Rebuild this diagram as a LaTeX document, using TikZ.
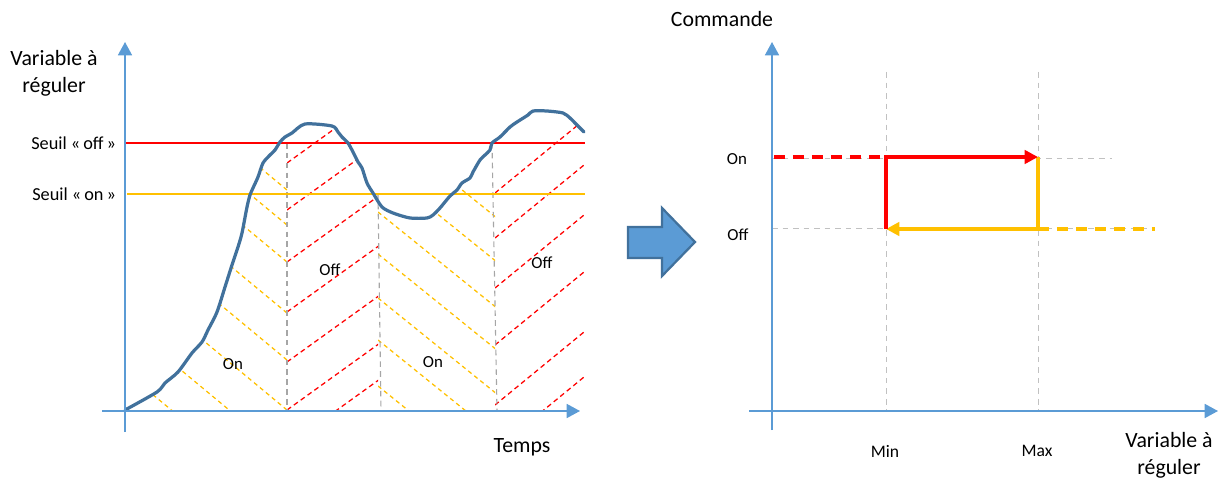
\documentclass[tikz,border=0pt]{standalone}
\usepackage{fontspec}
\setmainfont{Carlito}
\usetikzlibrary{arrows.meta}
\definecolor{axisblue}{HTML}{5B9BD5}
\definecolor{curveblue}{HTML}{41719C}
\definecolor{seuilred}{HTML}{FF0000}
\definecolor{seuilorange}{HTML}{FFC000}
\definecolor{guidegray}{HTML}{A6A6A6}
\def\courbe{plot[smooth, tension=0.45] coordinates {(125,410) (157,392) (165,383) (178,372) (192,353) (202,342) (208,330) (217,312) (225,287) (232,265) (238,247) (242,233) (247,207) (250,195) (253,188) (258,177) (263,163) (270,155) (275,150) (280,142) (285,137) (292,133) (305,124) (332,126) (338,132) (342,137) (348,143) (353,152) (358,162) (362,168) (367,183) (373,193) (382,207) (393,213) (410,218) (427,218) (433,215) (440,208) (450,196) (457,190) (462,183) (470,178) (473,172) (480,160) (485,155) (490,150) (492,143) (500,137) (510,127) (517,122) (528,115) (533,111) (547,111) (563,113) (570,118) (575,123) (584,132)}}
\begin{document}
\begin{tikzpicture}
[x=0.025cm, y=-0.025cm,
axe/.style={draw=axisblue, line width=1.1pt, -{Triangle[length=9.5pt,width=10pt]}},
curve/.style={draw=curveblue, line width=2.3pt, line join=round, line cap=round},
seuiloff/.style={draw=seuilred, line width=0.9pt},
seuilon/.style={draw=seuilorange, line width=0.9pt},
hatchon/.style={draw=seuilorange, line width=0.9pt, dash pattern=on 3pt off 2.5pt},
hatchoff/.style={draw=seuilred, line width=0.9pt, dash pattern=on 3.5pt off 2.5pt},
limit/.style={draw=guidegray, line width=0.8pt, dash pattern=on 4pt off 3pt},
guide/.style={draw=guidegray!70, line width=0.7pt, dash pattern=on 4pt off 3.5pt},
cmdon/.style={draw=seuilred, line width=2.8pt, -{Triangle[length=9.5pt,width=9.5pt]}},
cmdoff/.style={draw=seuilorange, line width=2.8pt, -{Triangle[length=9.5pt,width=9.5pt]}},
redline/.style={draw=seuilred, line width=2.8pt},
orangeline/.style={draw=seuilorange, line width=2.5pt},
reddash/.style={draw=seuilred, line width=2.2pt, dash pattern=on 8pt off 5.5pt},
orangedash/.style={draw=seuilorange, line width=2.2pt, dash pattern=on 8pt off 5.5pt},
bigarrow/.style={draw=curveblue, fill=axisblue, line width=1.6pt, line join=miter},
axislabel/.style={font=\fontsize{15.5}{19}\selectfont, align=center},
seuil/.style={font=\fontsize{13}{15}\selectfont, anchor=east},
etat/.style={font=\fontsize{12}{14}\selectfont},
borne/.style={font=\fontsize{12.5}{14}\selectfont}
]
\useasboundingbox (0,0) rectangle (1230,479);

\begin{scope}
\clip \courbe -- (584,411) -- (125,411) -- cycle;
\begin{scope}
\clip (125,100) rectangle (287,411);
\foreach \y in {190,225,262,313,360,410,458,506}
  \draw[hatchon] (287,\y) -- ++(-200,-166);
\end{scope}
\begin{scope}
\clip (287,100) rectangle (378,411);
\foreach \y in {163,210,262,312,362,410,446}
  \draw[hatchoff] (287,\y) -- ++(100,-72);
\end{scope}
\begin{scope}
\clip (378,100) rectangle (495,411);
\foreach \y in {122,166,212,254,298,340,386}
  \draw[hatchon] (378,\y) -- ++(130,105);
\end{scope}
\begin{scope}
\clip (495,100) rectangle (590,411);
\foreach \y in {193,238,288,345,405,450}
  \draw[hatchoff] (495,\y) -- ++(100,-82);
\end{scope}
\end{scope}

\draw[limit] (287,143) -- (287,411);
\draw[limit] (378,194) -- (381,411);
\draw[limit] (492,143) -- (497,411);
\draw[seuiloff] (125,143) -- (585,143);
\draw[seuilon] (127,194) -- (585,194);
\draw[curve] \courbe;
\draw[axe] (102,411) -- (580,411);
\draw[axe] (125,432) -- (125,42);

\node[axislabel] (yleft) at (54,73) {Variable à\\réguler};
\node[seuil] (soff) at (121,143) {Seuil «\,off\,»};
\node[seuil] (son) at (121,194) {Seuil «\,on\,»};
\node[axislabel] (temps) at (522,447) {Temps};
\node[etat] (on1) at (233,364) {On};
\node[etat] (off1) at (330,270) {Off};
\node[etat] (on2) at (433,362) {On};
\node[etat] (off2) at (542,263) {Off};

\draw[bigarrow] (628,227) -- (662,227) -- (662,208) -- (695,242) -- (662,276) -- (662,258) -- (628,258) -- cycle;

\coordinate (onL) at (774,157);
\coordinate (onMin) at (886,157);
\coordinate (onMax) at (1038,157);
\coordinate (offMin) at (886,229);
\coordinate (offMax) at (1038,229);
\coordinate (offR) at (1155,229);

\draw[guide] (886,72) -- (886,411);
\draw[guide] (1038,72) -- (1038,411);
\draw[guide] (772,158) -- (1112,158);
\draw[guide] (772,228) -- (1155,228);
\draw[axe] (749,411) -- (1218,411);
\draw[axe] (772,430) -- (772,42);

\draw[reddash] (onL) -- (onMin);
\draw[orangedash] (offMax) -- (offR);
\draw[orangeline] (onMax) -- (offMax);
\draw[cmdon] (onMin) -- (onMax);
\draw[cmdoff] (offMax) -- (offMin);
\draw[redline] ([yshift=1.4pt]onMin) -- (offMin);

\node[axislabel] (cmd) at (722,19) {Commande};
\node[etat] (on) at (737,159) {On};
\node[etat] (off) at (738,235) {Off};
\node[borne] (min) at (885,451) {Min};
\node[borne] (max) at (1037,451) {Max};
\node[axislabel] (xright) at (1169,455) {Variable à\\réguler};
\end{tikzpicture}
\end{document}
